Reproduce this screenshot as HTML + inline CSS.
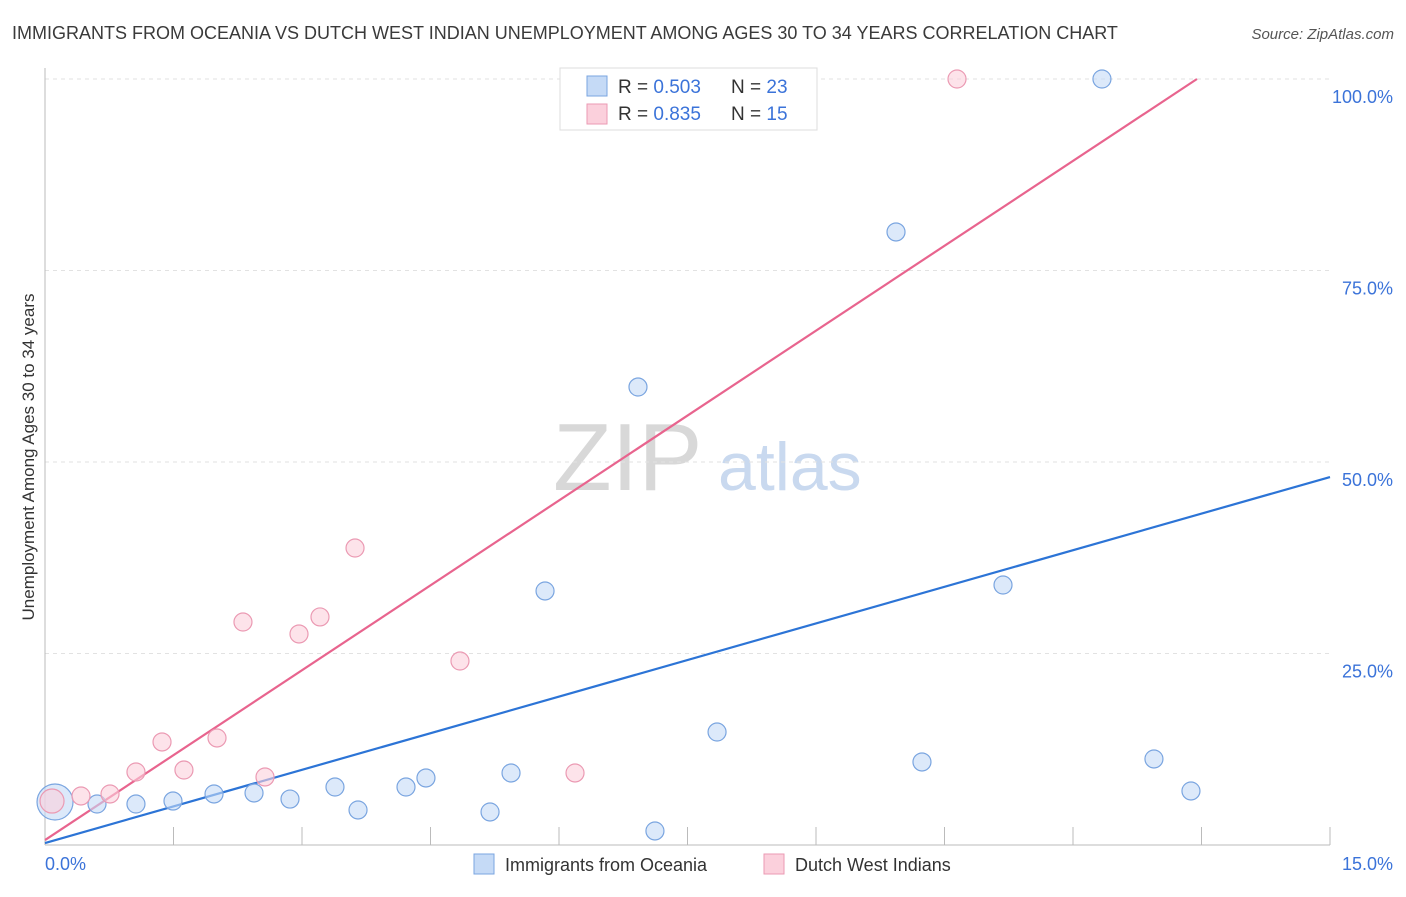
<!DOCTYPE html>
<html><head><meta charset="utf-8"><style>
body{margin:0;background:#fff;font-family:"Liberation Sans",sans-serif}
svg text{font-family:"Liberation Sans",sans-serif}
</style></head><body>
<svg width="1406" height="892">
<text x="12" y="39" font-size="18" fill="#3a3a3a">IMMIGRANTS FROM OCEANIA VS DUTCH WEST INDIAN UNEMPLOYMENT AMONG AGES 30 TO 34 YEARS CORRELATION CHART</text>
<text x="1394" y="39" font-size="15" fill="#555" text-anchor="end" font-style="italic">Source: ZipAtlas.com</text>
<g>
<text x="553" y="490" font-size="96" fill="#d8d8d8" font-family="Liberation Serif">ZIP</text>
<text x="718" y="490" font-size="68" fill="#c9d9ef">atlas</text>
</g>
<g id="grid"></g><g id="axes"></g><g id="lines"></g><g id="pts"></g>
<text transform="translate(34,457) rotate(-90)" font-size="17" fill="#333" text-anchor="middle">Unemployment Among Ages 30 to 34 years</text>
<text x="45" y="870" font-size="18" fill="#3b73d9">0.0%</text>
<text x="1393" y="870" font-size="18" fill="#3b73d9" text-anchor="end">15.0%</text>
<g>
<rect x="560" y="68" width="257" height="62" fill="#fff" stroke="#ddd"/>
<rect x="587" y="76" width="20" height="20" fill="#c5daf6" stroke="#7aa5e0"/>
<rect x="587" y="104" width="20" height="20" fill="#fbd0dc" stroke="#eb9ab3"/>
<text x="618" y="93" font-size="19" fill="#333">R = <tspan fill="#3b73d9">0.503</tspan><tspan x="731">N = </tspan><tspan fill="#3b73d9">23</tspan></text>
<text x="618" y="120" font-size="19" fill="#333">R = <tspan fill="#3b73d9"> 0.835</tspan><tspan x="731">N = </tspan><tspan fill="#3b73d9"> 15</tspan></text>
</g>
<g>
<rect x="474" y="854" width="20" height="20" fill="#c5daf6" stroke="#7aa5e0"/>
<text x="505" y="871" font-size="18" fill="#333">Immigrants from Oceania</text>
<rect x="764" y="854" width="20" height="20" fill="#fbd0dc" stroke="#eb9ab3"/>
<text x="795" y="871" font-size="18" fill="#333">Dutch West Indians</text>
</g>
</svg>
<script>
const yTicks=[25,50,75,100];
const yTickLabels=["25.0%","50.0%","75.0%","100.0%"];
const xTicks=[1.5,3,4.5,6,7.5,9,10.5,12,13.5,15];
const blueX=[0.117,0.607,1.062,1.494,1.973,2.44,2.86,3.385,3.654,4.214,4.447,5.44,5.195,5.837,6.922,7.12,7.845,9.934,10.237,11.183,12.338,12.945,13.377];
const blueY=[5.61,5.35,5.35,5.74,6.66,6.79,6.0,7.57,4.57,7.57,8.75,9.40,4.31,33.16,59.79,1.83,14.75,80.03,10.84,33.94,100,11.23,7.05];
const blueR=[18,9,9,9,9,9,9,9,9,9,9,9,9,9,9,9,9,9,9,9,9,9,9];
const pinkX=[0.082,0.42,0.759,1.062,1.366,1.622,2.008,2.311,2.568,2.965,3.21,3.619,4.844,6.187,10.646];
const pinkY=[5.74,6.40,6.66,9.53,13.45,9.79,13.97,29.11,8.88,27.55,29.77,38.77,24.02,9.40,100];
const pinkR=[12,9,9,9,9,9,9,9,9,9,9,9,9,9,9];
const blueLineX=[0,15], blueLineY=[0.26,48.04];
const pinkLineX=[0,13.447], pinkLineY=[0.65,100];
const NS="http://www.w3.org/2000/svg";
const sx=v=>45+v/15*1285, sy=v=>845-v/100*766;
function mk(p,t,a){const e=document.createElementNS(NS,t);for(const k in a)e.setAttribute(k,a[k]);document.getElementById(p).appendChild(e);return e;}
yTicks.forEach((t,i)=>{
 const l=mk('grid','line',{x1:45,x2:1330,y1:sy(t),y2:sy(t),stroke:'#e2e2e2','stroke-dasharray':'4,4'});
 
 
 const tx=mk('grid','text',{x:1393,y:sy(t)+24,'font-size':18,fill:'#3b73d9','text-anchor':'end'});
 tx.textContent=yTickLabels[i];
 
 
});
let a=mk('axes','line',{x1:45,x2:45,y1:68,y2:845,stroke:'#bbb'});


a=mk('axes','line',{x1:45,x2:1330,y1:845,y2:845,stroke:'#bbb'});


xTicks.forEach(t=>{
 const l=mk('axes','line',{x1:sx(t),x2:sx(t),y1:827,y2:845,stroke:'#bbb'});
 
 
});
function pts(X,Y,R,fill,stroke,name){
 X.forEach((x,i)=>{
  const c=mk('pts','circle',{cx:sx(x),cy:sy(Y[i]),r:R[i],fill:fill,stroke:stroke,'stroke-width':1.2,'fill-opacity':0.6});
  
  
 });
}
pts(blueX,blueY,blueR,'#c5daf6','#7aa5e0','point-oceania');
pts(pinkX,pinkY,pinkR,'#fbd0dc','#eb9ab3','point-dutch-west-indian');
let ln=mk('lines','line',{x1:sx(blueLineX[0]),y1:sy(blueLineY[0]),x2:sx(blueLineX[1]),y2:sy(blueLineY[1]),stroke:'#2c74d6','stroke-width':2.2});


ln=mk('lines','line',{x1:sx(pinkLineX[0]),y1:sy(pinkLineY[0]),x2:sx(pinkLineX[1]),y2:sy(pinkLineY[1]),stroke:'#e8648e','stroke-width':2.2});


</script>
</body></html>
